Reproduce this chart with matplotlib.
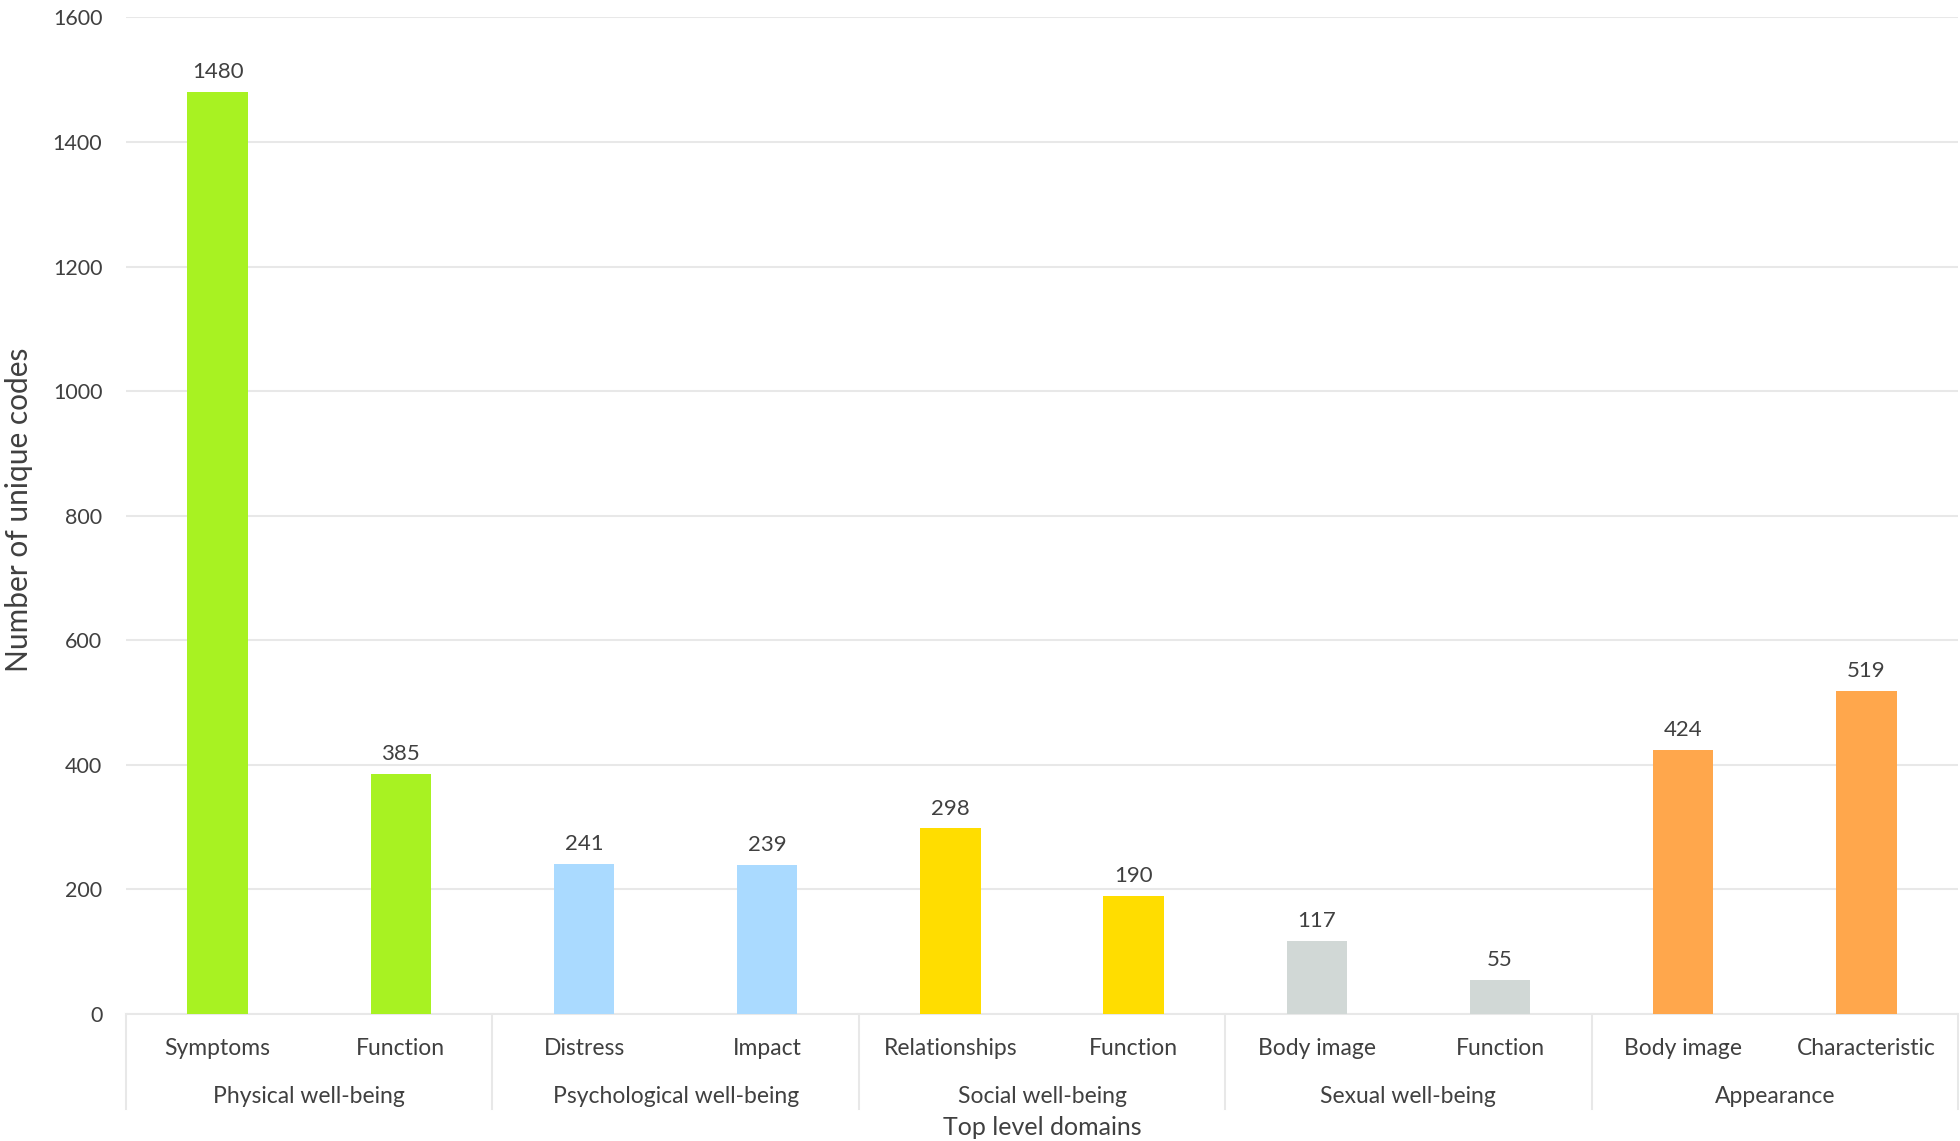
import matplotlib.pyplot as plt
import matplotlib.transforms as mtransforms
import numpy as np

plt.rcParams['font.family'] = ['Lato', 'DejaVu Sans']

groups = ['Physical well-being', 'Psychological well-being', 'Social well-being',
          'Sexual well-being', 'Appearance']
subcats = ['Symptoms', 'Function', 'Distress', 'Impact', 'Relationships', 'Function',
           'Body image', 'Function', 'Body image', 'Characteristic']
counts = [1480, 385, 241, 239, 298, 190, 117, 55, 424, 519]
group_colors = ['#a8f222', '#aadaff', '#ffdd00', '#d1d8d6', '#ffa74c']

text_col = '#404040'
grid_col = '#e8e8e8'

fig = plt.figure(figsize=(19.6, 11.41), dpi=100)
ax = fig.add_axes([0.0643, 0.1113, 0.9347, 0.8734])

x = np.arange(len(counts))
colors = [group_colors[i // 2] for i in range(len(counts))]
bars = ax.bar(x, counts, width=0.33, color=colors, zorder=3)

for xi, v in zip(x, counts):
    ax.annotate(str(v), (xi, v), textcoords='offset points', xytext=(0, 7),
                ha='center', va='bottom', fontsize=16, color=text_col)

ax.set_xlim(-0.5, len(counts) - 0.5)
ax.set_ylim(0, 1600)
ax.set_yticks(np.arange(0, 1601, 200))
ax.tick_params(axis='y', length=0, pad=17, labelsize=15.5, labelcolor=text_col)
ax.set_xticks([])
ax.grid(True, axis='y', color=grid_col, linewidth=1.5, zorder=0)
for s in ['top', 'right', 'left']:
    ax.spines[s].set_visible(False)
ax.spines['bottom'].set_color(grid_col)
ax.spines['bottom'].set_linewidth(1.5)

trans = mtransforms.blended_transform_factory(ax.transData, ax.transAxes)
for xi, lab in zip(x, subcats):
    ax.text(xi, -0.035, lab, transform=trans, ha='center', va='center',
            fontsize=16.5, color=text_col)
for gi, g in enumerate(groups):
    ax.text(2 * gi + 0.5, -0.083, g, transform=trans, ha='center', va='center',
            fontsize=16.5, color=text_col)
for b in np.arange(-0.5, len(counts), 2):
    ax.plot([b, b], [0, -0.095], transform=trans, color=grid_col,
            linewidth=1.5, clip_on=False)

ax.text(0.5, -0.114, 'Top level domains', transform=ax.transAxes, ha='center',
        va='center', fontsize=18, color=text_col)
fig.text(0.0095, 0.553, 'Number of unique codes', rotation=90, ha='center',
         va='center', fontsize=21.5, color=text_col)

fig.savefig('out.png', dpi=100)
